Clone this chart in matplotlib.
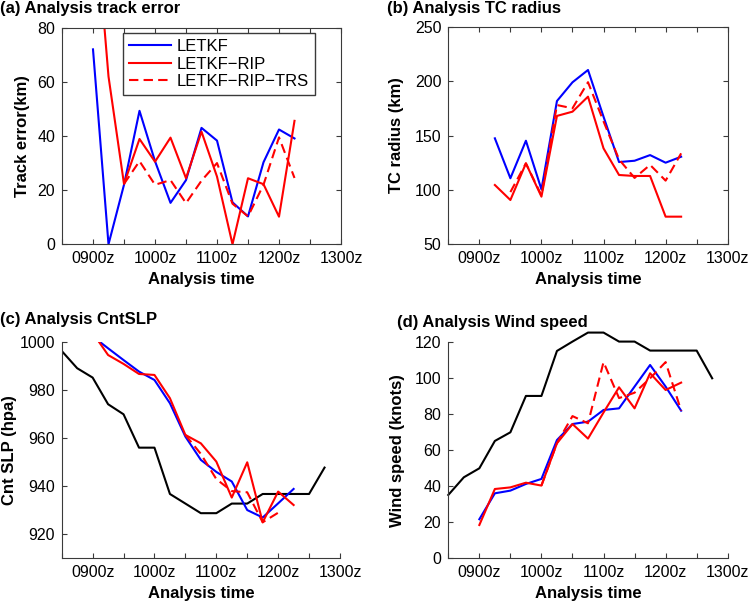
import numpy as np
import matplotlib
matplotlib.use("Agg")
import matplotlib.pyplot as plt

plt.rcParams['font.family'] = ['Liberation Sans', 'DejaVu Sans']

# hours after 0900z
obs_hours = [-12, -6, 0, 6, 12, 18, 24, 30, 36, 42, 48, 54, 60, 66, 72, 78, 84, 90]
ana_hours = [0, 6, 12, 18, 24, 30, 36, 42, 48, 54, 60, 66, 72, 78]

# (a) track error (km)
letkf_te = [72, 0, 22, 49.3, 30.7, 15.3, 23.7, 43, 38.3, 15.5, 10.3, 30.3, 42.4, 39.1]
rip_te = [131, 62, 22.3, 38.9, 30.5, 39.4, 24.4, 41.6, 25, 0, 24.4, 22.2, 10.2, 45.6]
trs_te_hours = [12, 18, 24, 30, 36, 42, 48, 54, 60, 66, 72, 78]
trs_te = [22.3, 30.7, 22, 23.7, 15.2, 23.5, 30, 15, 10.3, 22, 39.5, 24.5]

# (b) TC radius (km)
rad_hours = [6, 12, 18, 24, 30, 36, 42, 48, 54, 60, 66, 72, 78]
letkf_r = [147.4, 110.7, 145.2, 100.5, 181.7, 198.9, 210.2, 167.3, 125.6, 126.8, 132, 125, 130.5]
rip_r = [104.5, 90.7, 124.4, 93.8, 168, 171.9, 185.7, 138.2, 113.7, 112.8, 112.8, 75.4, 75.4]
trs_r_hours = [12, 18, 24, 30, 36, 42, 48, 54, 60, 66, 72, 78]
trs_r = [98, 124.4, 95, 178, 175, 199, 163, 128, 111, 123, 108.5, 133.6]

# (c) central SLP (hPa)
obs_p = [996.4, 989.2, 985.3, 974.2, 970, 956.1, 956.1, 936.8, 932.8, 928.8,
         928.8, 932.8, 932.8, 936.8, 936.8, 936.8, 936.8, 947.8]
letkf_p = [1002.5, 997.5, 992.6, 987.8, 984.3, 974.6, 960.7, 951, 946, 942, 930.1, 927, 932.9, 938.9]
rip_p = [1004, 994.7, 991, 986.8, 986.4, 976.7, 961.4, 957.9, 950.3, 935.3, 950, 925, 937.8, 932.2]
trs_p_hours = [36, 42, 48, 54, 60, 66, 72]
trs_p = [961.4, 953.5, 943, 938, 937.5, 925, 929]

# (d) wind speed (knots)
obs_w = [35.2, 45, 50, 65.2, 70, 90.2, 90.2, 115.2, 120.4, 125.4, 125.4, 120.4,
         120.4, 115.4, 115.4, 115.4, 115.4, 100]
letkf_w = [21.7, 36.1, 37.6, 41.3, 44.1, 65.7, 74.6, 75.9, 82.4, 83.3, 95.4, 107.4, 95.4, 82]
rip_w = [18.5, 38.5, 39.4, 42, 40.4, 63.9, 74.6, 66.5, 81, 95, 83.3, 102.8, 93.5, 97.6]
trs_w_hours = [24, 30, 36, 42, 48, 54, 60, 66, 72, 78]
trs_w = [40.4, 64, 79, 75, 109, 89, 92, 100, 109, 82]

xtick_pos = list(range(-12, 97, 12))
xtick_lab = ['', '0900z', '', '1000z', '', '1100z', '', '1200z', '', '1300z']

W, H = 753, 603
fig = plt.figure(figsize=(W / 100, H / 100), dpi=100)

def px_axes(l, t, r, b):
    return fig.add_axes([l / W, 1 - b / H, (r - l) / W, (b - t) / H])

ax_a = px_axes(62, 27.7, 341, 244.3)
ax_b = px_axes(448.3, 26.7, 727.7, 244.3)
ax_c = px_axes(61.7, 342.3, 340, 558.3)
ax_d = px_axes(448.3, 342.3, 727.7, 558.3)

lw = 1.5
dash = (0, (4.5, 2.5))
spine_col = '#3a3a3a'

def style(ax, box):
    ax.set_xlim(-12, 96)
    ax.set_xticks(xtick_pos)
    ax.set_xticklabels(xtick_lab)
    ax.tick_params(direction='in', length=3.5, width=0.8, labelsize=11.5,
                   color=spine_col, pad=5, top=box, right=box)
    for s in ax.spines.values():
        s.set_color(spine_col)
        s.set_linewidth(0.8)
    if not box:
        ax.spines['top'].set_visible(False)
        ax.spines['right'].set_visible(False)
    ax.set_xlabel('Analysis time', fontsize=12, fontweight='bold')
    ax.xaxis.set_label_coords(0.5, -0.127)

# (a)
ax_a.plot(ana_hours, letkf_te, color='blue', lw=lw, label='LETKF')
ax_a.plot(ana_hours, rip_te, color='red', lw=lw, label='LETKF\u2212RIP')
ax_a.plot(trs_te_hours, trs_te, color='red', lw=lw, ls=dash, label='LETKF\u2212RIP\u2212TRS')
ax_a.set_ylim(0, 80)
ax_a.set_yticks([0, 20, 40, 60, 80])
style(ax_a, True)
ax_a.set_ylabel('Track error(km)', fontsize=12, fontweight='bold')
ax_a.yaxis.set_label_coords(-0.116, 0.5)
leg = ax_a.legend(loc='upper left', bbox_to_anchor=(0.22, 0.974), borderaxespad=0,
                  fontsize=12, handlelength=2.5, handletextpad=0.35, labelspacing=0.15,
                  borderpad=0.35, fancybox=False, framealpha=1)
leg.get_frame().set_edgecolor(spine_col)
leg.get_frame().set_linewidth(1.0)

# (b)
ax_b.plot(rad_hours, letkf_r, color='blue', lw=lw)
ax_b.plot(rad_hours, rip_r, color='red', lw=lw)
ax_b.plot(trs_r_hours, trs_r, color='red', lw=lw, ls=dash)
ax_b.set_ylim(50, 250)
ax_b.set_yticks([50, 100, 150, 200, 250])
style(ax_b, True)
ax_b.set_ylabel('TC radius (km)', fontsize=12, fontweight='bold')
ax_b.yaxis.set_label_coords(-0.157, 0.5)

# (c)
ax_c.plot(obs_hours, obs_p, color='black', lw=lw)
ax_c.plot(ana_hours, letkf_p, color='blue', lw=lw)
ax_c.plot(ana_hours, rip_p, color='red', lw=lw)
ax_c.plot(trs_p_hours, trs_p, color='red', lw=lw, ls=dash)
ax_c.set_ylim(910, 1000)
ax_c.set_yticks([920, 940, 960, 980, 1000])
style(ax_c, False)
ax_c.set_ylabel('Cnt SLP (hpa)', fontsize=12, fontweight='bold')
ax_c.yaxis.set_label_coords(-0.161, 0.5)

# (d)
ax_d.plot(obs_hours, obs_w, color='black', lw=lw, clip_on=False)
ax_d.plot(ana_hours, letkf_w, color='blue', lw=lw, clip_on=False)
ax_d.plot(ana_hours, rip_w, color='red', lw=lw, clip_on=False)
ax_d.plot(trs_w_hours, trs_w, color='red', lw=lw, ls=dash, clip_on=False)
ax_d.set_ylim(0, 120)
ax_d.set_yticks([0, 20, 40, 60, 80, 100, 120])
style(ax_d, False)
ax_d.set_ylabel('Wind speed (knots)', fontsize=12, fontweight='bold')
ax_d.yaxis.set_label_coords(-0.155, 0.5)

# panel titles
fig.text(0 / W, 1 - 0.5 / H, '(a) Analysis track error', ha='left', va='top', fontsize=12, fontweight='bold')
fig.text(387 / W, 1 - 0.5 / H, '(b) Analysis TC radius', ha='left', va='top', fontsize=12, fontweight='bold')
fig.text(0 / W, 1 - 312 / H, '(c) Analysis CntSLP', ha='left', va='top', fontsize=12, fontweight='bold')
fig.text(397 / W, 1 - 315 / H, '(d) Analysis Wind speed', ha='left', va='top', fontsize=12, fontweight='bold')

fig.savefig('out.png', dpi=100)
